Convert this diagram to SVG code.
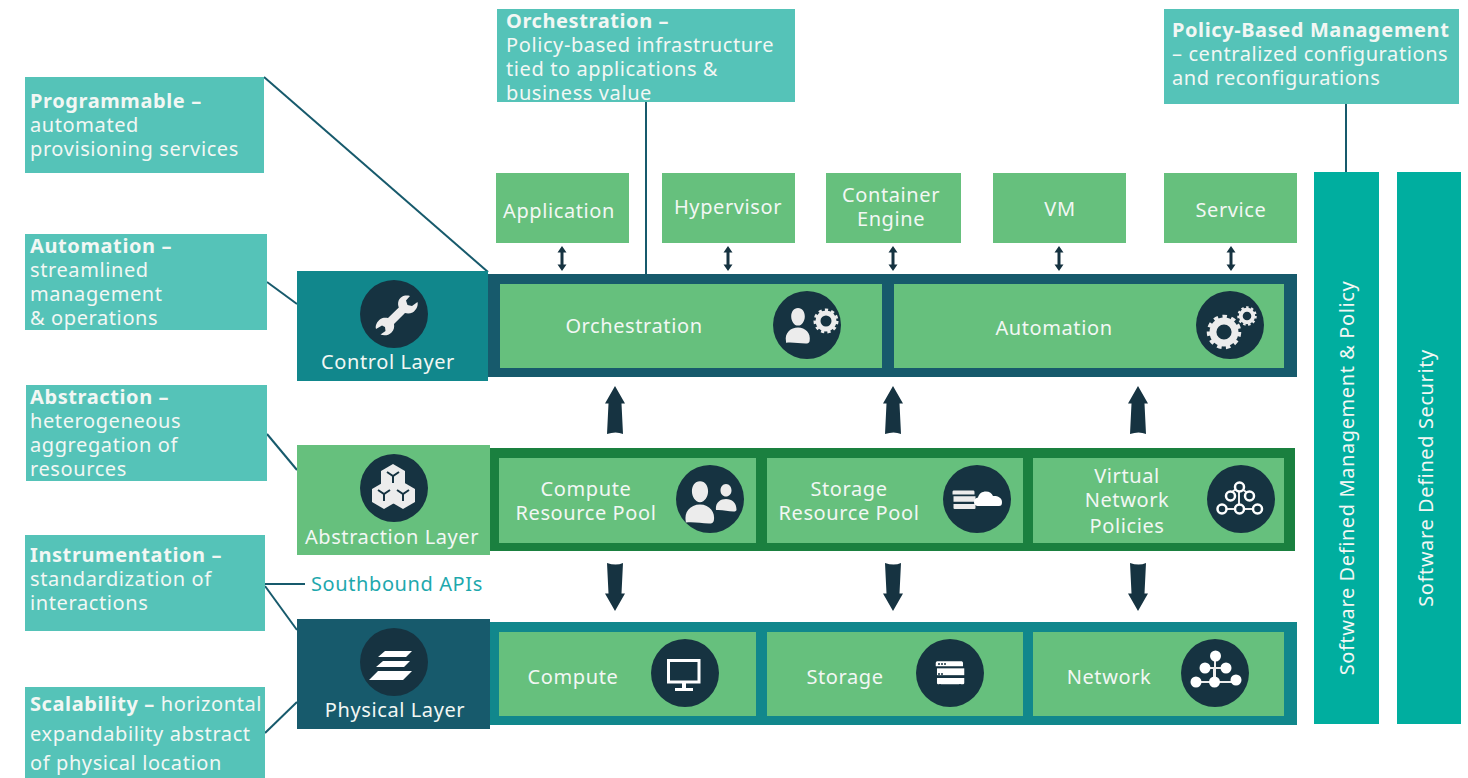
<svg xmlns="http://www.w3.org/2000/svg" xmlns:xlink="http://www.w3.org/1999/xlink" width="1468" height="778" viewBox="0 0 1468 778">
<style>
text{font-family:"Noto Sans","Open Sans","DejaVu Sans",sans-serif;font-size:20px;fill:#f2f7f4;letter-spacing:.6px}
.c{text-anchor:middle}
.b{font-weight:700}
.note{fill:#55c3b8}
.leaf{fill:#66c07d}
.ln{stroke:#175a6c;stroke-width:2;fill:none}
.disc{fill:#163341}
.ic{fill:#ececec}
.arw{fill:#163341}
.wire{stroke:#ececec;stroke-width:2;fill:none}
.ring{fill:#163341;stroke:#fff;stroke-width:2.5}
</style>
<defs>
<g id="gear"><circle r="8" fill="none" stroke="#ececec" stroke-width="5"/><circle r="11" fill="none" stroke="#ececec" stroke-width="3" stroke-dasharray="3.2 3.1"/></g>
<path id="person" d="M0-25c5.500 0 8.500 5 8.500 10.500s-3.500 11.500-8.500 11.500-8.500-6-8.500-11.500 3-10.500 8.500-10.500zM-15 17c-2-11 6-17.500 15-17.500s16.500 7 14.500 17c-.5 2-2 3-5 3-9 0-15-2-24.500-1z"/>
<path id="up" d="M0 0L10 17.500H6.500L8 48Q1 45-8 48L-6.500 17.500H-10z"/>
<g id="srv"><path d="M-23-19h40a3 3 0 0 1 2 3v5h-44v-5a3 3 0 0 1 2-3z" transform="translate(2 0)"/><rect x="-21" y="-7.500" width="44" height="11"/><path d="M-21 8h44v8a2 2 0 0 1-2 2h-40a2 2 0 0 1-2-2z"/></g>
<path id="dbl" d="M0 0l4.500 6.500h-3v12h3L0 25l-4.500-6.500h3v-12h-3z"/>
<path id="cube" d="M0-13L12-6V7L0 14-12 7V-6z"/>
</defs>

<g id="connectors">
<path class="ln" d="M264 77L488 272"/>
<path class="ln" d="M267 282L297 304"/>
<path class="ln" d="M267 434L297 470"/>
<path class="ln" d="M265 584H305"/>
<path class="ln" d="M265 586L297 630"/>
<path class="ln" d="M265 733L297 702"/>
<path class="ln" d="M646 102V274"/>
<path class="ln" d="M1346 104V172"/>
<g class="arw">
<use xlink:href="#dbl" x="562" y="246"/><use xlink:href="#dbl" x="728" y="246"/><use xlink:href="#dbl" x="893" y="246"/><use xlink:href="#dbl" x="1059" y="246"/><use xlink:href="#dbl" x="1231" y="246"/>
<use xlink:href="#up" x="615" y="386"/><use xlink:href="#up" x="893" y="386"/><use xlink:href="#up" x="1138" y="386"/>
<use xlink:href="#up" transform="translate(615 611) scale(1 -1)"/><use xlink:href="#up" transform="translate(893 611) scale(1 -1)"/><use xlink:href="#up" transform="translate(1138 611) scale(1 -1)"/>
</g>
</g>

<g id="note-programmable"><rect class="note" x="25" y="77" width="239" height="96"/><text class="b" x="30" y="108">Programmable –</text><text x="30" y="132">automated</text><text x="30" y="156">provisioning services</text></g>
<g id="note-automation"><rect class="note" x="25" y="234" width="242" height="96"/><text class="b" x="30" y="253">Automation –</text><text x="30" y="277">streamlined</text><text x="30" y="301">management</text><text x="30" y="325">&amp; operations</text></g>
<g id="note-abstraction"><rect class="note" x="26" y="385" width="241" height="96"/><text class="b" x="30" y="404">Abstraction –</text><text x="30" y="428">heterogeneous</text><text x="30" y="452">aggregation of</text><text x="30" y="476">resources</text></g>
<g id="note-instrumentation"><rect class="note" x="25" y="535" width="240" height="96"/><text class="b" x="30" y="562">Instrumentation –</text><text x="30" y="586">standardization of</text><text x="30" y="610">interactions</text></g>
<g id="note-scalability"><rect class="note" x="25" y="687" width="240" height="91"/><text x="30" y="711"><tspan class="b">Scalability –</tspan> horizontal</text><text x="30" y="741">expandability abstract</text><text x="30" y="770">of physical location</text></g>
<g id="note-orchestration"><rect class="note" x="497" y="9" width="298" height="93"/><text class="b" x="506" y="28">Orchestration –</text><text x="506" y="52">Policy-based infrastructure</text><text x="506" y="76">tied to applications &amp;</text><text x="506" y="100">business value</text></g>
<g id="note-policy"><rect class="note" x="1164" y="9" width="295" height="95"/><text class="b" x="1172" y="37">Policy-Based Management</text><text x="1172" y="61">– centralized configurations</text><text x="1172" y="85">and reconfigurations</text></g>

<g id="app-application"><rect class="leaf" x="496" y="173" width="133" height="70"/><text class="c" x="559" y="218">Application</text></g>
<g id="app-hypervisor"><rect class="leaf" x="662" y="173" width="133" height="70"/><text class="c" x="728" y="214">Hypervisor</text></g>
<g id="app-container"><rect class="leaf" x="826" y="173" width="135" height="70"/><text class="c" x="891" y="202">Container</text><text class="c" x="891" y="226">Engine</text></g>
<g id="app-vm"><rect class="leaf" x="993" y="173" width="133" height="70"/><text class="c" x="1060" y="216">VM</text></g>
<g id="app-service"><rect class="leaf" x="1164" y="173" width="133" height="70"/><text class="c" x="1231" y="217">Service</text></g>

<g id="control-bar"><rect fill="#175a6c" x="488" y="274" width="809" height="103"/></g>
<g id="control-layer"><rect fill="#11878c" x="297" y="271" width="191" height="110"/><circle class="disc" cx="394" cy="314" r="34"/>
<path class="ic" d="M410 296c-5-1.500-10 .5-11.500 5-.8 2.500-.4 4.500.3 6.500L388 318c-2.500-.5-5.500-.5-7.500 1-3.500 2.500-5.500 6.500-4.500 10l6-3.500 3 1.500.5 4-5 3.500c3.500 1.500 8 1 11-2 2.500-2.500 3-5.500 2.500-8.500l11-11c2 .7 5 .8 7.500-.5 3.500-2 6-6.500 5-10.500l-5.500 4-4.500-1-1.500-4.500z"/>
<text class="c" x="388" y="369">Control Layer</text></g>
<g id="orchestration"><rect class="leaf" x="500" y="284" width="382" height="84"/><text class="c" x="634" y="333">Orchestration</text><circle class="disc" cx="807" cy="325" r="34"/><use class="ic" xlink:href="#person" x="798" y="328" transform="translate(159.600 65.600) scale(.8)"/><use xlink:href="#gear" x="826" y="321"/></g>
<g id="automation"><rect class="leaf" x="894" y="284" width="390" height="84"/><text class="c" x="1054" y="335">Automation</text><circle class="disc" cx="1230" cy="325" r="34"/><use xlink:href="#gear" transform="translate(1224 332) scale(1.38)"/><use xlink:href="#gear" transform="translate(1247 316) scale(.78)"/></g>

<g id="abstraction-bar"><rect fill="#1a803f" x="490" y="448" width="805" height="103"/></g>
<g id="abstraction-layer"><rect class="leaf" x="297" y="445" width="193" height="110"/><circle class="disc" cx="394" cy="488" r="34"/>
<g class="ic"><use xlink:href="#cube" x="393" y="477" /><use xlink:href="#cube" x="384" y="495"/><use xlink:href="#cube" x="403" y="495"/></g>
<path d="M387 472l6 4 6-4M393 476v7M378 490l6 4 6-4M384 494v7M397 490l6 4 6-4M403 494v7" stroke="#163341" stroke-width="2" fill="none"/>
<text class="c" x="392" y="544">Abstraction Layer</text></g>
<g id="compute-pool"><rect class="leaf" x="499" y="458" width="257" height="85"/><text class="c" x="586" y="496">Compute</text><text class="c" x="586" y="520">Resource Pool</text><circle class="disc" cx="710" cy="499" r="34"/><use class="ic" xlink:href="#person" transform="translate(700 505) scale(.95)"/><path class="ic" d="M726 484c3.500 0 5.500 3 5.500 6.500s-2.500 6-5.500 6-5.500-2.500-5.500-6 2-6.500 5.500-6.500zM716 510c-1-7 4-11 10-11s10.500 4 10.500 10.500c0 1.500-1 2-3 2-6 0-10.500-2-17.500-1.500z"/></g>
<g id="storage-pool"><rect class="leaf" x="767" y="458" width="256" height="85"/><text class="c" x="849" y="496">Storage</text><text class="c" x="849" y="520">Resource Pool</text><circle class="disc" cx="977" cy="499" r="34"/><use class="ic" xlink:href="#srv" transform="translate(964 500) scale(.5)" fill="#fff"/><path fill="#fff" d="M979 506c-4 0-5-2-5-4 0-3 2-4 4-4.500 1-4 4-6 8-6 3.500 0 6 2 7 4.500 3.500-.5 9 1 9 6 0 3-1 4-3 4z"/></g>
<g id="network-policies"><rect class="leaf" x="1033" y="458" width="251" height="85"/><text class="c" x="1127" y="483">Virtual</text><text class="c" x="1127" y="507">Network</text><text class="c" x="1127" y="533">Policies</text><circle class="disc" cx="1241" cy="499" r="34"/>
<path class="wire" d="M1239 485v13M1239 487l-10 7M1239 487l10 7M1222 509h38M1239 498v11"/>
<circle class="ring" cx="1239.500" cy="487" r="4.500"/><circle class="ring" cx="1230.500" cy="496" r="4.500"/><circle class="ring" cx="1249.500" cy="496" r="4.500"/><circle class="ring" cx="1222" cy="509" r="4.500"/><circle class="ring" cx="1239.500" cy="509" r="4.500"/><circle class="ring" cx="1257.500" cy="509" r="4.500"/></g>

<text x="311" y="591" style="fill:#1ea8ad">Southbound APIs</text>

<g id="physical-bar"><rect fill="#11878c" x="490" y="622" width="807" height="103"/></g>
<g id="physical-layer"><rect fill="#175a6c" x="297" y="619" width="193" height="110"/><circle class="disc" cx="394" cy="662" r="34"/><path fill="#fff" d="M384 652h27l-6 6h-28zM382 662h27l-6 6h-28zM377 672h34l-9 9h-34z" transform="translate(1 -1)"/>
<text class="c" x="395" y="717">Physical Layer</text></g>
<g id="compute"><rect class="leaf" x="499" y="632" width="257" height="84"/><text class="c" x="573" y="684">Compute</text><circle class="disc" cx="685" cy="673" r="34"/><path fill="none" stroke="#fff" stroke-width="3" d="M668.500 660.500H699V682H668.500z"/><path fill="#fff" d="M682 683h4v7h-4zM675 688h18v3h-18z"/></g>
<g id="storage"><rect class="leaf" x="767" y="632" width="256" height="84"/><text class="c" x="845" y="684">Storage</text><circle class="disc" cx="950" cy="673" r="34"/><use fill="#fff" xlink:href="#srv" transform="translate(950 673) scale(.62)"/><g fill="#163341"><circle cx="939" cy="664" r="1"/><circle cx="942" cy="664" r="1"/><circle cx="945" cy="664" r="1"/><circle cx="939" cy="674" r="1"/><circle cx="942" cy="674" r="1"/><circle cx="940" cy="685" r="1"/><circle cx="960" cy="685" r="1"/></g></g>
<g id="network"><rect class="leaf" x="1033" y="632" width="251" height="84"/><text class="c" x="1109" y="684">Network</text><circle class="disc" cx="1215" cy="673" r="34"/>
<path class="wire" d="M1215 660v18M1205 668h20M1196 682h40M1214 682v-14" stroke="#fff"/><g fill="#fff"><circle cx="1215.500" cy="656" r="5.500"/><circle cx="1205" cy="668" r="5.500"/><circle cx="1226" cy="668" r="5.500"/><circle cx="1196" cy="682" r="5.500"/><circle cx="1214.500" cy="682" r="5.500"/><circle cx="1236" cy="680" r="5.500"/></g></g>

<g id="policy-bar"><rect fill="#00ae9f" x="1314" y="172" width="65" height="552"/><text class="c" transform="translate(1354 478) rotate(-90)">Software Defined Management &amp; Policy</text></g>
<g id="security-bar"><rect fill="#00ae9f" x="1397" y="172" width="64" height="552"/><text class="c" transform="translate(1433 478) rotate(-90)">Software Defined Security</text></g>
</svg>
